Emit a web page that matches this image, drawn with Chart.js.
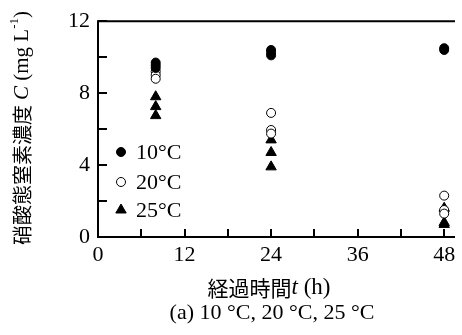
<!doctype html>
<html lang="ja">
<head>
<meta charset="utf-8">
<title>硝酸態窒素濃度</title>
<style>
  body { margin: 0; background: #fff; }
  #wrap { width: 462px; height: 335px; position: relative; }
</style>
</head>
<body>
<div id="wrap"><canvas id="myChart"></canvas></div>
<script src="https://cdn.jsdelivr.net/npm/chart.js@4.4.2/dist/chart.umd.min.js"></script>
<script>
  // elapsed time (h) and nitrate-N concentration (mg/L), three replicates per time
  const t10 = [8, 8, 8, 24, 24, 24, 48, 48];
  const c10 = [9.7, 9.55, 9.4, 10.4, 10.25, 10.1, 10.5, 10.4];
  const t20 = [8, 8, 8, 24, 24, 24, 48, 48, 48];
  const c20 = [9.2, 9.0, 8.8, 6.9, 5.95, 5.75, 2.3, 1.5, 1.3];
  const t25 = [8, 8, 8, 24, 24, 24, 48, 48, 48];
  const c25 = [7.8, 7.25, 6.75, 5.4, 4.7, 3.9, 1.6, 0.8, 0.7];

  const seriesNames = ['10°C', '20°C', '25°C'];
  const xTicks = [0, 6, 12, 18, 24, 30, 36, 42, 48];
  const yTicks = [0, 2, 4, 6, 8, 10, 12];

  const serif = "'Liberation Serif', 'Times New Roman', serif";
  const cjk = "'Noto Sans CJK JP', sans-serif";

  const pts = (xs, ys) => xs.map((v, i) => ({ x: v, y: ys[i] }));

  // draws frame, inward ticks, legend and axis titles
  const decor = {
    id: 'decor',
    afterDraw(chart) {
      const { ctx, chartArea: a, scales: { x, y } } = chart;
      ctx.save();
      ctx.strokeStyle = '#000';
      ctx.lineWidth = 2;
      ctx.beginPath();
      ctx.moveTo(a.right, a.top);
      ctx.lineTo(a.left, a.top);
      ctx.lineTo(a.left, a.bottom);
      ctx.lineTo(a.right, a.bottom);
      ctx.stroke();

      ctx.beginPath();
      yTicks.forEach(v => {
        const py = Math.round(y.getPixelForValue(v));
        ctx.moveTo(a.left, py);
        ctx.lineTo(a.left + 9, py);
      });
      xTicks.forEach(v => {
        const px = Math.round(x.getPixelForValue(v));
        ctx.moveTo(px, a.bottom);
        ctx.lineTo(px, a.bottom - 8);
      });
      ctx.stroke();

      // legend inside plot
      ctx.fillStyle = '#000';
      ctx.textBaseline = 'middle';
      ctx.textAlign = 'left';
      ctx.font = '22px ' + serif;
      const ly = [152, 182, 210];
      chart.data.datasets.forEach((ds, i) => {
        ctx.save();
        ctx.fillStyle = ds.backgroundColor;
        ctx.strokeStyle = ds.borderColor;
        ctx.lineWidth = ds.borderWidth;
        Chart.helpers.drawPoint(ctx, { pointStyle: ds.pointStyle, radius: ds.pointRadius, rotation: 0, borderWidth: ds.borderWidth }, 121, ly[i]);
        ctx.restore();
        ctx.fillText(seriesNames[i], 136, ly[i] + 1);
      });

      // mixed-font text runs
      const run = (parts, cx, cy, rot) => {
        ctx.save();
        ctx.translate(cx, cy);
        if (rot) ctx.rotate(rot);
        let total = 0;
        parts.forEach(p => { ctx.font = p[1]; total += ctx.measureText(p[0]).width; });
        let px = -total / 2;
        parts.forEach(p => {
          ctx.font = p[1];
          ctx.fillText(p[0], px, p[2] || 0);
          px += ctx.measureText(p[0]).width;
        });
        ctx.restore();
      };

      ctx.textBaseline = 'middle';
      run([
        ['硝酸態窒素濃度', '20px ' + cjk],
        [' ', '20px ' + serif],
        ['C', 'italic 21px ' + serif],
        [' (mg L', '21px ' + serif],
        ['-1', '13px ' + serif, -7],
        [')', '21px ' + serif]
      ], 22, 128, -Math.PI / 2);

      run([
        ['経過時間', '21px ' + cjk],
        ['t', 'italic 23px ' + serif],
        [' (h)', '23px ' + serif]
      ], 269, 288);

      run([['(a) 10 °C, 20 °C, 25 °C', '22px ' + serif]], 272, 313);
      ctx.restore();
    }
  };

  new Chart(document.getElementById('myChart'), {
    type: 'scatter',
    data: {
      datasets: [{
        label: seriesNames[0],
        data: pts(t10, c10),
        pointStyle: 'circle',
        pointRadius: 4.5,
        backgroundColor: '#000',
        borderColor: '#000',
        borderWidth: 1
      }, {
        label: seriesNames[1],
        data: pts(t20, c20),
        pointStyle: 'circle',
        pointRadius: 4.5,
        backgroundColor: '#fff',
        borderColor: '#000',
        borderWidth: 1
      }, {
        label: seriesNames[2],
        data: pts(t25, c25),
        pointStyle: 'triangle',
        pointRadius: 6,
        backgroundColor: '#000',
        borderColor: '#000',
        borderWidth: 1
      }]
    },
    options: {
      responsive: true,
      maintainAspectRatio: false,
      animation: false,
      layout: { padding: { top: 20, left: 0, right: 0, bottom: 0 } },
      plugins: { legend: { display: false }, tooltip: { enabled: false } },
      scales: {
        x: {
          type: 'linear',
          min: 0,
          max: 49.5,
          grid: { display: false, drawTicks: false },
          border: { display: false },
          afterFit: s => { s.height = 98; },
          ticks: {
            stepSize: 6,
            includeBounds: false,
            autoSkip: false,
            maxRotation: 0,
            padding: 5,
            color: '#000',
            font: { family: serif, size: 22 },
            callback: v => (v % 12 === 0 ? v : '')
          }
        },
        y: {
          min: 0,
          max: 12,
          grid: { display: false, drawTicks: false },
          border: { display: false },
          afterFit: s => { s.width = 98; },
          ticks: {
            stepSize: 2,
            autoSkip: false,
            padding: 8,
            color: '#000',
            font: { family: serif, size: 22 },
            callback: v => (v % 4 === 0 ? v : '')
          }
        }
      }
    },
    plugins: [decor]
  });
</script>
</body>
</html>
